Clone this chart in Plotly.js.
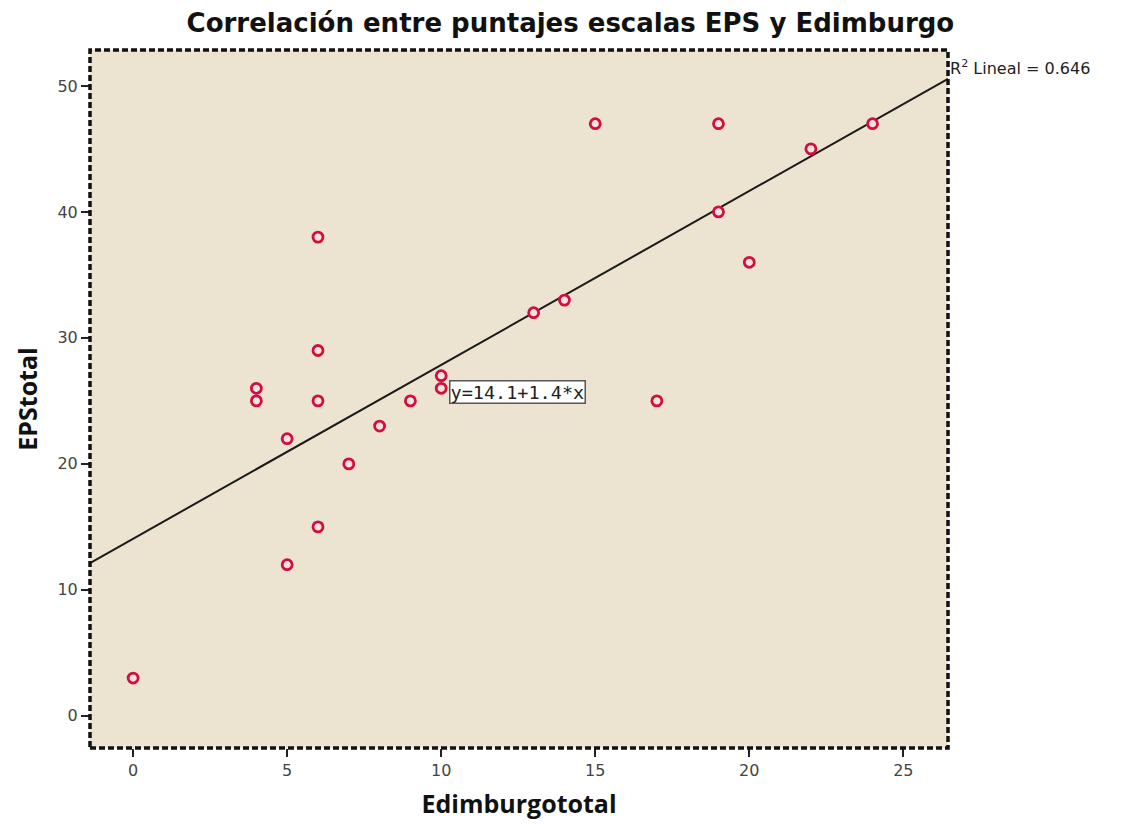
<!DOCTYPE html>
<html>
<head>
<meta charset="utf-8">
<script src="https://cdn.plot.ly/plotly-3.0.1.min.js"></script>
<style>html,body{margin:0;padding:0;background:#fff;}#chart{width:1125px;height:825px;}</style>
</head>
<body>
<div id="chart"></div>
<script>
// Data
const edimburgo = [0, 4, 4, 5, 5, 6, 6, 6, 6, 7, 8, 9, 10, 10, 13, 14, 15, 17, 19, 19, 20, 22, 24];
const epsTotal  = [3, 26, 25, 22, 12, 38, 29, 25, 15, 20, 23, 25, 27, 26, 32, 33, 47, 25, 47, 40, 36, 45, 47];
const fitIntercept = 14.06;
const fitSlope = 1.38;
const r2 = 0.646;
const xRange = [-1.4, 26.45];
const yRange = [-2.55, 52.85];
const xTicks = [0, 5, 10, 15, 20, 25];
const yTicks = [0, 10, 20, 30, 40, 50];

const fitX = [xRange[0], xRange[1]];
const fitY = fitX.map(x => fitIntercept + fitSlope * x);

const traces = [
  {
    x: fitX, y: fitY, mode: 'lines', type: 'scatter',
    line: {color: '#1a1a1a', width: 2}, hoverinfo: 'skip'
  },
  {
    x: edimburgo, y: epsTotal, mode: 'markers', type: 'scatter',
    marker: {symbol: 'circle', size: 10, color: '#f8e0e4', line: {color: '#d0103a', width: 2.8}}
  }
];

const layout = {
  width: 1125, height: 825,
  margin: {l: 90, r: 177, t: 50, b: 77},
  paper_bgcolor: '#ffffff',
  plot_bgcolor: '#ece4d0',
  showlegend: false,
  title: {
    text: 'Correlación entre puntajes escalas EPS y Edimburgo',
    font: {family: 'DejaVu Sans', size: 26, color: '#111', weight: 'bold'},
    x: 0.507, xanchor: 'center', y: 0.972, yanchor: 'middle'
  },
  xaxis: {
    range: xRange, tickvals: xTicks, ticktext: xTicks.map(String),
    showgrid: false, zeroline: false, showline: false,
    ticks: 'outside', ticklen: 8, tickwidth: 2, tickcolor: '#222',
    tickfont: {family: 'DejaVu Sans', size: 16, color: '#444'},
    title: {text: 'Edimburgototal', font: {family: 'Open Sans', size: 25, color: '#111', weight: 'bold'}, standoff: 16}
  },
  yaxis: {
    range: yRange, tickvals: yTicks, ticktext: yTicks.map(String),
    showgrid: false, zeroline: false, showline: false,
    ticks: 'outside', ticklen: 8, tickwidth: 2, tickcolor: '#222',
    tickfont: {family: 'DejaVu Sans', size: 16, color: '#444'},
    title: {text: 'EPStotal', font: {family: 'Open Sans', size: 25, color: '#111', weight: 'bold'}, standoff: 12}
  },
  shapes: [
    {type: 'rect', xref: 'paper', yref: 'paper', x0: 0, x1: 1, y0: 0, y1: 1,
     line: {color: '#111', width: 3.5, dash: '6px,3px'}, layer: 'above'}
  ],
  annotations: [
    {xref: 'paper', yref: 'paper', x: 1.0, y: 0.975, xanchor: 'left', yanchor: 'middle',
     text: 'R<sup>2</sup> Lineal = ' + r2.toFixed(3), showarrow: false,
     font: {family: 'DejaVu Sans', size: 16, color: '#222'}},
    {xref: 'x', yref: 'y', x: 10.25, y: 25.7, xanchor: 'left', yanchor: 'middle',
     text: 'y=' + fitIntercept.toFixed(1) + '+' + fitSlope.toFixed(1) + '*x', showarrow: false,
     font: {family: 'DejaVu Sans Mono', size: 18.5, color: '#222'},
     bgcolor: '#ffffff', bordercolor: '#555', borderwidth: 1.5, borderpad: 0}
  ]
};

Plotly.newPlot('chart', traces, layout, {displayModeBar: false, staticPlot: true});
</script>
</body>
</html>
